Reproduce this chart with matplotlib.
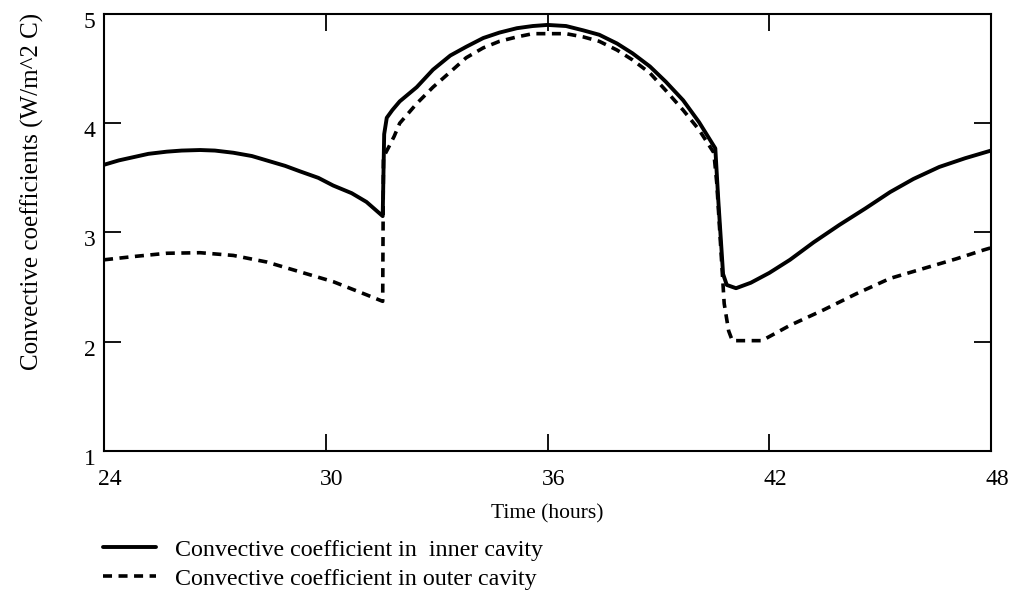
import numpy as np
import matplotlib
matplotlib.use("Agg")
import matplotlib.pyplot as plt
import matplotlib.transforms as mtransforms

# ---- convective coefficients over one day (hours 24-48) ----
t_inner = [24.0, 24.4, 24.8, 25.2, 25.7, 26.1, 26.6, 27.0, 27.5, 28.0,
           28.4, 28.9, 29.3, 29.8, 30.2, 30.7, 31.1, 31.54,
           31.58, 31.65, 31.8, 32.0, 32.46, 32.9, 33.37, 33.8, 34.26, 34.7,
           35.17, 35.6, 36.0, 36.5, 36.97, 37.4, 37.88, 38.3, 38.77, 39.2,
           39.67, 40.1, 40.54, 40.62, 40.75, 40.85, 41.1, 41.5, 42.0, 42.56,
           43.2, 43.9, 44.6, 45.27, 45.9, 46.6, 47.3, 48.0]
h_inner = [3.62, 3.66, 3.69, 3.72, 3.74, 3.75, 3.755, 3.75, 3.73, 3.70,
           3.66, 3.61, 3.56, 3.50, 3.43, 3.36, 3.28, 3.15,
           3.90, 4.05, 4.12, 4.20, 4.33, 4.49, 4.62, 4.70, 4.78, 4.83,
           4.87, 4.89, 4.90, 4.89, 4.85, 4.81, 4.73, 4.64, 4.52, 4.38,
           4.21, 4.01, 3.77, 3.30, 2.62, 2.52, 2.49, 2.54, 2.63, 2.75,
           2.91, 3.07, 3.22, 3.37, 3.49, 3.60, 3.68, 3.75]

t_outer = [24.0, 24.8, 25.7, 26.6, 27.5, 28.4, 29.3, 30.2, 31.1, 31.54,
           31.56, 31.7, 31.85, 32.0, 32.46, 32.9, 33.37, 33.8, 34.26, 34.7,
           35.17, 35.6, 36.0, 36.5, 36.97, 37.4, 37.88, 38.3, 38.77, 39.2,
           39.67, 40.1, 40.5, 40.58, 40.68, 40.78, 40.9, 41.0, 41.8, 42.56,
           43.46, 44.36, 45.27, 46.17, 47.07, 47.8, 48.0]
h_outer = [2.75, 2.78, 2.81, 2.815, 2.79, 2.73, 2.64, 2.55, 2.43, 2.37,
           3.69, 3.78, 3.88, 4.00, 4.18, 4.33, 4.47, 4.60, 4.69, 4.75,
           4.79, 4.82, 4.82, 4.82, 4.79, 4.75, 4.67, 4.58, 4.46, 4.30,
           4.12, 3.94, 3.73, 3.45, 2.90, 2.35, 2.10, 2.01, 2.01, 2.15,
           2.29, 2.44, 2.58, 2.67, 2.76, 2.84, 2.86]

x_ticks = [24, 30, 36, 42, 48]
y_ticks = [1, 2, 3, 4, 5]

plt.rcParams["font.family"] = ["Liberation Serif", "DejaVu Serif"]

fig = plt.figure(figsize=(10.13, 5.96), dpi=100)
ax = fig.add_axes([0.1027, 0.2433, 0.8756, 0.7332])

l1, = ax.plot(t_inner, h_inner, color="black", lw=2.8,
              solid_joinstyle="round", solid_capstyle="round",
              label="Convective coefficient in  inner cavity")
l2, = ax.plot(t_outer, h_outer, color="black", lw=2.6,
              dashes=(2.5, 1.8), label="Convective coefficient in outer cavity")

ax.set_xlim(24, 48)
ax.set_ylim(1, 5)
ax.set_xticks(x_ticks)
ax.set_yticks(y_ticks)
ax.tick_params(direction="in", length=12, width=1.3, labelsize=17,
               top=True, right=True, color="black")
ax.tick_params(axis="x", pad=13)
ax.tick_params(axis="y", pad=6)
for s in ax.spines.values():
    s.set_linewidth(1.5)

# nudge tick labels a little (right for x, down for y)
for lab in ax.get_xticklabels():
    lab.set_transform(lab.get_transform() +
                      mtransforms.ScaledTranslation(6 / 100, 0, fig.dpi_scale_trans))
for lab in ax.get_yticklabels():
    lab.set_transform(lab.get_transform() +
                      mtransforms.ScaledTranslation(0, -6 / 100, fig.dpi_scale_trans))

ax.set_xlabel("Time (hours)", fontsize=15.5, labelpad=10)
ax.set_ylabel("Convective coefficients (W/m^2 C)", fontsize=18)
ax.yaxis.set_label_coords(-0.068, 0.593)

fig.legend(handles=[l1, l2], loc="upper left", bbox_to_anchor=(0.092, 0.112),
           frameon=False, fontsize=17.3, handlelength=2.2, handletextpad=0.8,
           labelspacing=0.3, borderaxespad=0)

fig.savefig("out.png", dpi=100)
